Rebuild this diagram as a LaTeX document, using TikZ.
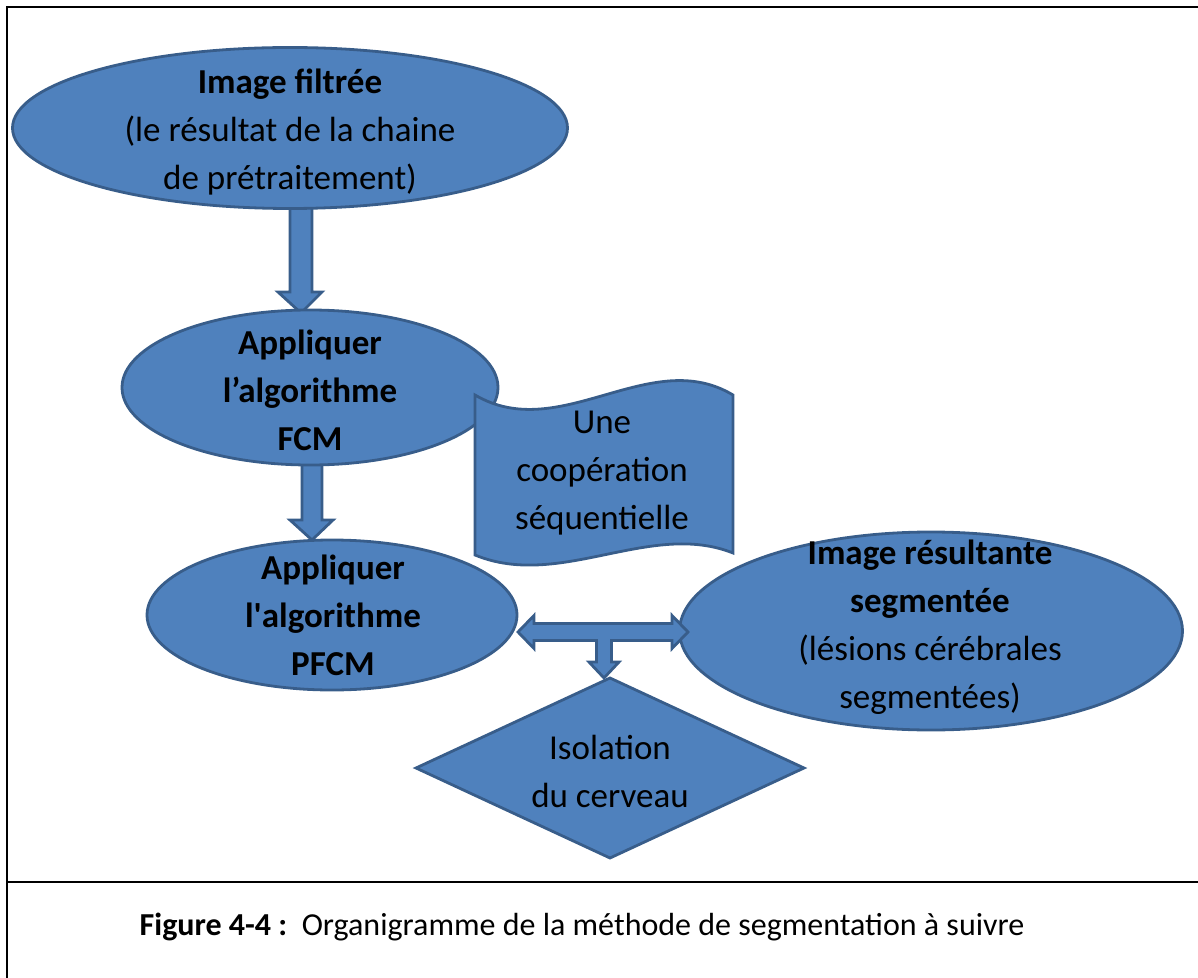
\documentclass[tikz,border=0pt]{standalone}
\usepackage{fontspec}
\setmainfont{Carlito}
\usetikzlibrary{shapes.geometric}
\definecolor{shapefill}{RGB}{79,129,189}
\definecolor{shapeline}{RGB}{56,93,138}
\begin{document}
\begin{tikzpicture}[x=0.5pt,y=-0.5pt,
  blob/.style={draw=shapeline, fill=shapefill, line width=1.4pt, inner sep=0pt, outer sep=0pt},
  oval/.style={blob, ellipse},
  txt/.style={align=center, font=\fontsize{17.5}{24}\selectfont, inner sep=0pt, text=black},
  frameline/.style={line width=1.4pt, black}]
\useasboundingbox (0,0) rectangle (1198,978);

% frame
\draw[frameline] (7,978) -- (7,7) -- (1198,7);
\draw[frameline] (7,882) -- (1198,882);

% block arrows between the ovals
\draw[blob] (290,200) -- (290,292) -- (278,292) -- (301,313) -- (322,292) -- (312,292) -- (312,200) -- cycle;
\draw[blob] (302,460) -- (302,520) -- (290,520) -- (312,540) -- (333,520) -- (322,520) -- (322,460) -- cycle;

% shapes
\node[oval, minimum width=277.5pt, minimum height=80.5pt] (e1) at (290,128) {};
\node[txt] (e1t) at (290,132) {\textbf{Image filtrée}\\(le résultat de la chaine\\de prétraitement)};

\node[oval, minimum width=188pt, minimum height=77.5pt] (e2) at (310,387.5) {};
\node[txt] (e2t) at (310,390) {\textbf{Appliquer}\\\textbf{l’algorithme}\\\textbf{FCM}};

\draw[blob] (475,395) .. controls (560,445) and (650,345) .. (733,395)
  -- (733,553) .. controls (650,520) and (560,590) .. (475,555) -- cycle;
\node[txt] (tape) at (602,473) {Une\\coopération\\séquentielle};

\node[oval, minimum width=185pt, minimum height=75pt] (e3) at (332,615) {};
\node[txt] (e3t) at (333,615) {\textbf{Appliquer}\\\textbf{l\textquotesingle algorithme}\\\textbf{PFCM}};

\node[oval, minimum width=251.5pt, minimum height=99pt] (e4) at (931,631) {};
\node[txt] (e4t) at (930,627) {\textbf{Image résultante}\\\textbf{segmentée}\\(lésions cérébrales\\segmentées)};

\node[blob, diamond, minimum width=194pt, minimum height=90pt] (d) at (610,768) {};
\node[txt] (dt) at (610,771) {Isolation\\du cerveau};

% T-shaped double arrow
\draw[blob] (518,632) -- (534,615.5) -- (534,623.5) -- (672,623.5) -- (672,615.5) -- (688,632)
  -- (672,648.5) -- (672,640.5) -- (611.5,640.5) -- (611.5,662) -- (619,662) -- (604,678)
  -- (589,662) -- (596.5,662) -- (596.5,640.5) -- (534,640.5) -- (534,648.5) -- cycle;

% caption
\node[inner sep=0pt, font=\fontsize{16}{19}\selectfont] (cap) at (582,927)
  {\textbf{Figure 4-4 :}\ \ Organigramme de la méthode de segmentation à suivre};
\end{tikzpicture}
\end{document}
